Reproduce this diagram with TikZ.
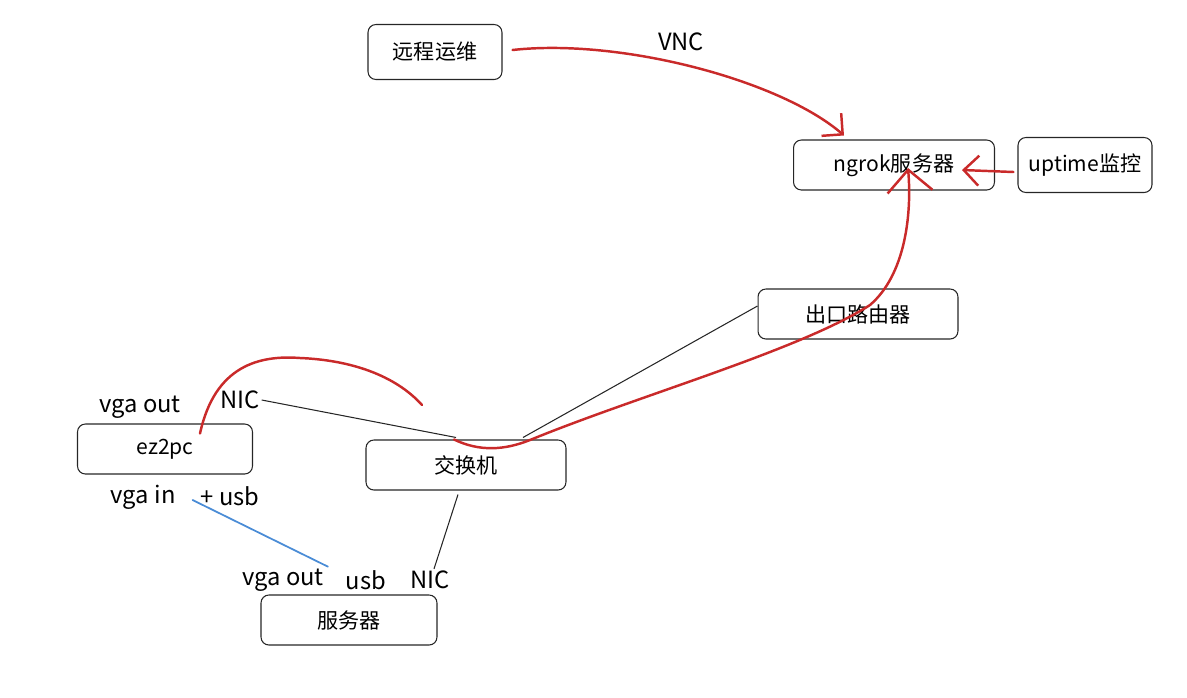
\documentclass[tikz,border=0pt]{standalone}
\usepackage{fontspec}
\setmainfont{Noto Sans CJK SC}
\usetikzlibrary{arrows.meta,calc}

\definecolor{sketchred}{HTML}{C92A2A}
\definecolor{sketchblue}{HTML}{4A8CD6}

\begin{document}
\begin{tikzpicture}[
  x=0.02cm, y=-0.02cm,
  devbox/.style={draw=black!85, rounded corners=4.5pt, line width=0.6pt, minimum height=1.0cm, font=\fontsize{12}{14}\selectfont},
  portlabel/.style={font=\fontsize{13.5}{15}\selectfont, inner sep=1pt},
  redline/.style={draw=sketchred, line width=1.4pt, line cap=round},
  redarrow/.style={redline, -{Straight Barb[length=3mm,width=6mm]}},
  cable/.style={draw=black!85, line width=0.6pt},
  vgacable/.style={draw=sketchblue, line width=1pt, line cap=round}
]
\useasboundingbox (0,0) rectangle (1187,697);

\node[devbox, minimum width=2.68cm, minimum height=1.1cm] (remote) at (435,52) {远程运维};
\node[devbox, minimum width=4.02cm] (ngrok) at (894,165) {ngrok服务器};
\node[devbox, minimum width=2.68cm, minimum height=1.1cm] (uptime) at (1085,165) {uptime监控};
\node[devbox, minimum width=4.0cm] (router) at (858,314) {出口路由器};
\node[devbox, minimum width=3.5cm] (ez2pc) at (165,449) {ez2pc};
\node[devbox, minimum width=4.0cm] (sw) at (466,465) {交换机};
\node[devbox, minimum width=3.52cm] (server) at (349,620) {服务器};

\node[portlabel] (vnc) at (681,42) {VNC};
\node[portlabel] (vgaA) at (140,407) {vga out};
\node[portlabel] (nicA) at (240,400) {NIC};
\node[portlabel] (vgain) at (143,497) {vga in};
\node[portlabel] (usbA) at (230,496) {+ usb};
\node[portlabel] (vgaB) at (283,580) {vga out};
\node[portlabel] (usbB) at (366,580) {usb};
\node[portlabel] (nicB) at (430,580) {NIC};

\coordinate (arcend) at (422,405);

% red links
\draw[redarrow] ($(remote.east)+(10,-2)$) .. controls (620,38) and (780,80) .. ($(ngrok.north west)+(51,-4)$);
\draw[redarrow] ($(uptime.west)+(-4,7)$) -- ($(ngrok.east)+(-33,5)$);
\draw[redline, -{Straight Barb[length=4.4mm,width=9mm]}] ($(sw.north)+(-12,0)$) .. controls (480,452) and (505,450) .. (530,440)
  .. controls (640,395) and (800,350) .. (870,305) .. controls (905,275) and (912,215) .. ($(ngrok.center)+(14,3)$);
\draw[redline] ($(ez2pc.north)+(35,10)$) .. controls (215,365) and (260,355) .. (300,358) .. controls (350,360) and (395,375) .. (arcend);

% cables
\draw[cable] (nicA.east) -- ($(sw.north)+(-10,-2)$);
\draw[cable] ($(sw.north)+(57,-2)$) -- ($(router.west)+(0,-8)$);
\draw[cable] ($(sw.south)+(-8,4)$) -- ($(nicB.north)+(4,0)$);
\draw[vgacable] ($(usbA.west)+(-6,4)$) -- ($(vgaB.north east)+(2,0)$);
\end{tikzpicture}
\end{document}
